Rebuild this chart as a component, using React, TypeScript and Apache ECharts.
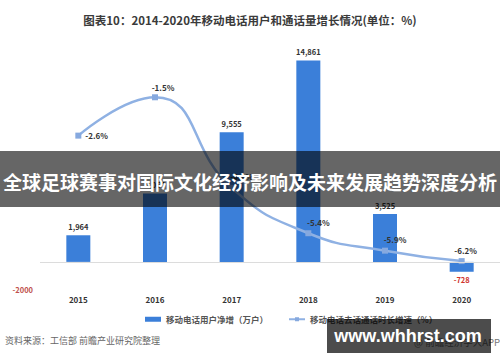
import React, { useEffect, useRef } from "react";
import * as echarts from "echarts";

const years = ["2015", "2016", "2017", "2018", "2019", "2020"];
const netAdds = [1964, 5054, 9555, 14861, 3525, -728];
const callGrowth = [-2.6, -1.5, -4.1, -5.4, -5.9, -6.2];
const barName = "移动电话用户净增（万户）";
const lineName = "移动电话去话通话时长增速（%）";
const titleText = "图表10：2014-2020年移动电话用户和通话量增长情况(单位：%)";
const bannerText = "全球足球赛事对国际文化经济影响及未来发展趋势深度分析";
const sourceText = "资料来源：工信部 前瞻产业研究院整理";
const appText = "@ 前瞻经济学人APP";
const siteText = "www.whhrst.com";

const CJK = '"Noto Sans CJK SC", "Noto Sans", sans-serif';

function fmtThousands(v: number) {
  const s = Math.abs(v).toString().replace(/\B(?=(\d{3})+(?!\d))/g, ",");
  return (v < 0 ? "-" : "") + s;
}

export default function App() {
  const ref = useRef<HTMLDivElement>(null);
  useEffect(() => {
    if (!ref.current) return;
    const chart = echarts.init(ref.current, undefined, { renderer: "svg" });

    const barData = netAdds.map((v) =>
      v < 0
        ? { value: v, label: { position: "bottom", color: "#d0342c", distance: 4 } }
        : { value: v }
    );
    const lineData = callGrowth.map((v, i) => {
      if (i === 0) return { value: v, label: { position: "right", distance: 4 } };
      if (i === 1) return { value: v, label: { position: "top", offset: [8, 2] } };
      if (i === 5) return { value: v, label: { position: "top", offset: [4, 1] } };
      return { value: v, label: { position: "top", offset: [10, 1] } };
    });

    chart.setOption({
      animation: false,
      textStyle: { fontFamily: CJK },
      title: {
        text: titleText,
        left: "center",
        top: 9,
        textStyle: { fontSize: 11.5, fontWeight: "bold", color: "#3a3a3a", fontFamily: CJK },
      },
      legend: {
        left: 140,
        top: 310,
        itemGap: 20,
        itemWidth: 16,
        itemHeight: 5,
        textStyle: { fontSize: 8.5, fontWeight: "bold", color: "#555", fontFamily: CJK },
        data: [
          { name: barName, icon: "rect" },
          { name: lineName },
        ],
      },
      grid: { left: 40, right: -7, top: 45, bottom: 73 },
      xAxis: {
        type: "category",
        data: years,
        axisLine: { show: false, onZero: false },
        axisTick: { show: false },
        axisLabel: { fontSize: 8, fontWeight: "bold", color: "#333", margin: 6 },
      },
      yAxis: [
        {
          type: "value",
          min: -2000,
          max: 16000,
          interval: 2000,
          splitLine: { show: false },
          axisLine: { show: false },
          axisTick: { show: false },
          axisLabel: {
            fontSize: 7.5,
            fontWeight: "bold",
            color: "#c0504d",
            margin: 7,
            formatter: (v: number) => (v === -2000 ? "-2000" : ""),
          },
        },
        {
          type: "value",
          min: -7,
          max: 0,
          interval: 1,
          show: false,
          splitLine: { show: false },
        },
      ],
      series: [
        {
          name: barName,
          type: "bar",
          data: barData,
          barWidth: 24,
          itemStyle: { color: "#3b7fd9" },
          label: {
            show: true,
            position: "top",
            fontSize: 7.5,
            fontWeight: "bold",
            color: "#333",
            formatter: (p: any) => fmtThousands(p.value),
          },
          markLine: {
            silent: true,
            symbol: "none",
            label: { show: false },
            lineStyle: { color: "#dcdcdc", width: 1, type: "solid" },
            data: [{ yAxis: 0 }],
          },
          z: 2,
        },
        {
          name: lineName,
          type: "line",
          yAxisIndex: 1,
          data: lineData,
          smooth: 0.5,
          symbol: "rect",
          symbolSize: 6,
          lineStyle: { color: "#8fb1e3", width: 2.5 },
          itemStyle: { color: "#86a9df" },
          label: {
            show: true,
            fontSize: 8,
            fontWeight: "bold",
            color: "#333",
            formatter: (p: any) => p.value.toFixed(1) + "%",
          },
          z: 3,
        },
      ],
      graphic: [
        {
          type: "text",
          left: 5,
          top: 336,
          z: 50,
          style: { text: sourceText, fontSize: 9, fill: "#666", fontFamily: CJK },
        },
        {
          type: "text",
          right: 0,
          top: 337,
          z: 50,
          style: { text: appText, fontSize: 9.5, fill: "#777", fontFamily: CJK },
        },
        {
          type: "rect",
          z: 100,
          shape: { x: 0, y: 151, width: 500, height: 56 },
          style: { fill: "rgba(0,0,0,0.6)" },
        },
        {
          type: "text",
          z: 101,
          x: 250,
          y: 181,
          style: {
            text: bannerText,
            fontSize: 19,
            fontWeight: "bold",
            fill: "#ffffff",
            fontFamily: CJK,
            align: "center",
            verticalAlign: "middle",
          },
        },
        {
          type: "rect",
          z: 100,
          shape: { x: 327, y: 319, width: 164, height: 34 },
          style: { fill: "rgba(0,0,0,0.7)" },
        },
        {
          type: "text",
          z: 101,
          x: 408,
          y: 336,
          style: {
            text: siteText,
            fontSize: 18,
            fontWeight: "bold",
            fill: "#ffffff",
            fontFamily: '"Liberation Sans", Arial, sans-serif',
            align: "center",
            verticalAlign: "middle",
          },
        },
      ],
    });
    return () => chart.dispose();
  }, []);

  return (
    <div
      ref={ref}
      style={{ position: "absolute", left: 0, top: 0, width: 500, height: 362, background: "#fff" }}
    />
  );
}
